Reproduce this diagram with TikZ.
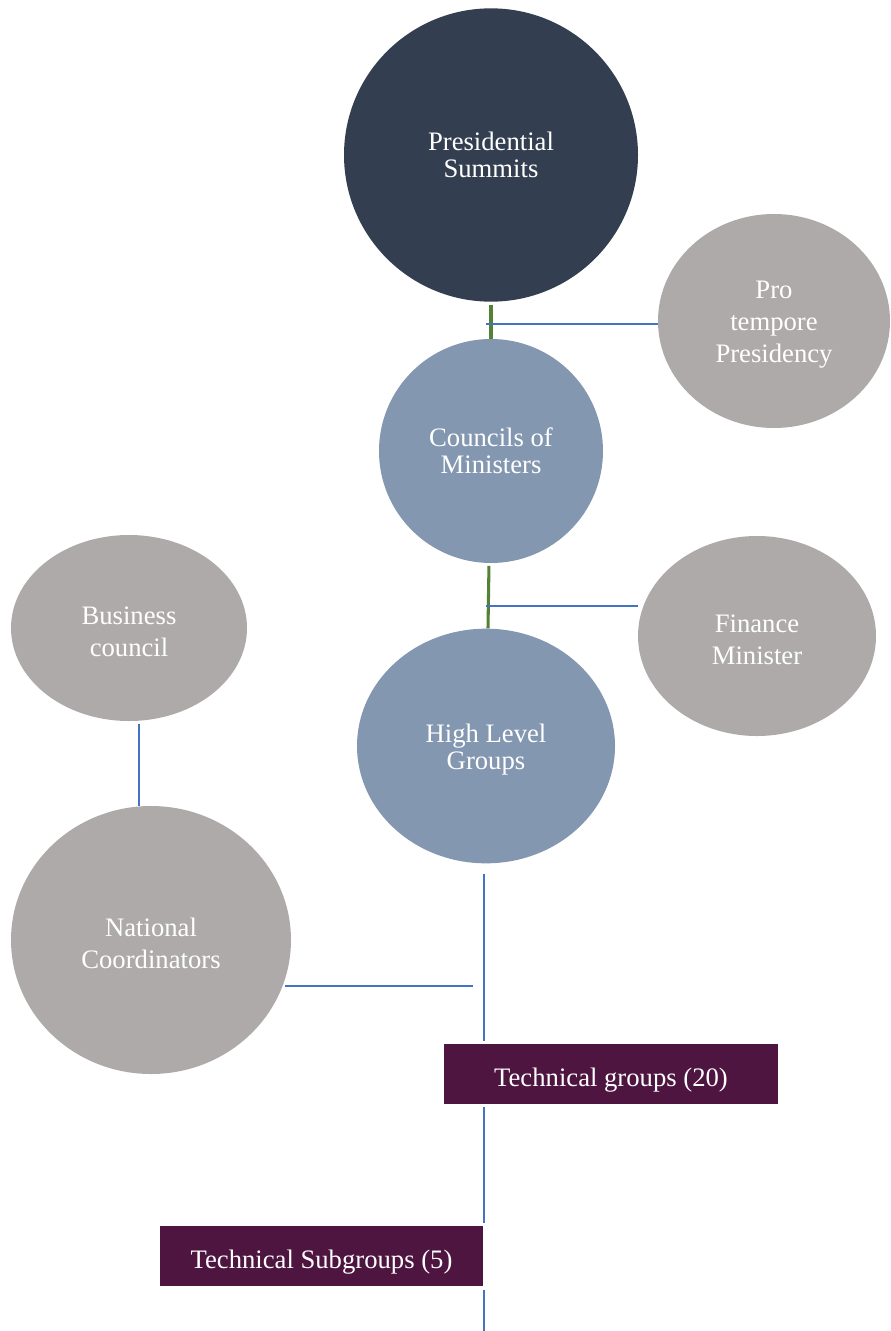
\documentclass[tikz,border=0pt]{standalone}
\usepackage{fontspec}
\setmainfont{Liberation Serif}
\usepackage{tikz}
\usetikzlibrary{calc,shapes.geometric}
\definecolor{navy}{HTML}{333F50}
\definecolor{steel}{HTML}{8497B0}
\definecolor{stone}{HTML}{AEAAAA}
\definecolor{plum}{HTML}{4E1541}
\definecolor{leaf}{HTML}{548235}
\definecolor{wire}{HTML}{4472C4}
\tikzset{
	blob/.style={ellipse, inner sep=0pt, text=white, align=center},
	bubble/.style={blob, font=\fontsize{20}{24}\selectfont},
	tightbubble/.style={blob, font=\fontsize{20}{20.5}\selectfont},
	bar/.style={rectangle, fill=plum, inner sep=0pt, text=white, minimum height=45pt, text height=22pt, text depth=4pt, font=\fontsize{20}{24}\selectfont},
	link/.style={draw=wire, line width=0.8pt},
	stem/.style={draw=leaf, line width=2.3pt}
}
\def\lift{\rule{0pt}{19pt}}

\begin{document}
\begin{tikzpicture}[x=0.75pt, y=-0.75pt]
			%%%%% START %%%%%
			\useasboundingbox (0, 0) rectangle (890, 1331);
			
			\node[tightbubble, fill=navy, minimum width=220.5pt, minimum height=220pt] (summit) at (491, 155) {Presidential\\Summits};
			\node[bubble, fill=stone, minimum width=174pt, minimum height=160.5pt] (protempore) at (774, 321) {\lift Pro\\tempore\\Presidency};
			\node[tightbubble, fill=steel, minimum width=168pt, minimum height=168pt] (councils) at (491, 451) {Councils of\\Ministers};
			\node[bubble, fill=stone, minimum width=178.5pt, minimum height=150pt] (finance) at (757, 636) {\lift Finance\\Minister};
			\node[bubble, fill=stone, minimum width=177pt, minimum height=139.5pt] (business) at (129, 628) {\lift Business\\council};
			\node[tightbubble, fill=steel, minimum width=193.5pt, minimum height=176pt] (highlevel) at (486, 746) {\lift High Level\\Groups};
			\node[bubble, fill=stone, minimum width=210pt, minimum height=201pt] (national) at (151, 940) {\lift National\\Coordinators};
			
			\node[bar, minimum width=250.5pt] (techgroups) at (611, 1074) {Technical groups (20)};
			\node[bar, minimum width=242.25pt] (techsub) at (321.5, 1256) {Technical Subgroups (5)};
			
			\coordinate (pjoin) at (486, 324);
			\coordinate (fjoin) at (486, 606);
			\coordinate (bjoin) at (139, 724);
			\coordinate (hjoin) at (484, 874);
			\coordinate (njoin) at (473, 986);
			\coordinate (njoinend) at (285, 986);
			\coordinate (tail) at (484, 1331);
			
			\draw[stem, shorten <=2pt] (summit.south) -- (councils.north);
			\draw[stem, shorten <=2pt] ($(councils.south)+(-2, 0)$) -- ($(highlevel.north)+(2, 0)$);
			\draw[link] (pjoin) -- (pjoin -| protempore.west);
			\draw[link] (fjoin) -- (fjoin -| finance.west);
			\draw[link] (bjoin) -- (bjoin |- national.north);
			
			\draw[link, shorten >=2pt] (hjoin) -- (hjoin |- techgroups.north);
			\draw[link] (njoin) -- (njoinend);
			\draw[link, shorten <=2pt, shorten >=2pt] (techgroups.south -| hjoin) -- (techsub.north -| hjoin);
			\draw[link, shorten <=3pt] (techsub.south -| hjoin) -- (tail);
			%%%%% END %%%%%
\end{tikzpicture}
\end{document}
